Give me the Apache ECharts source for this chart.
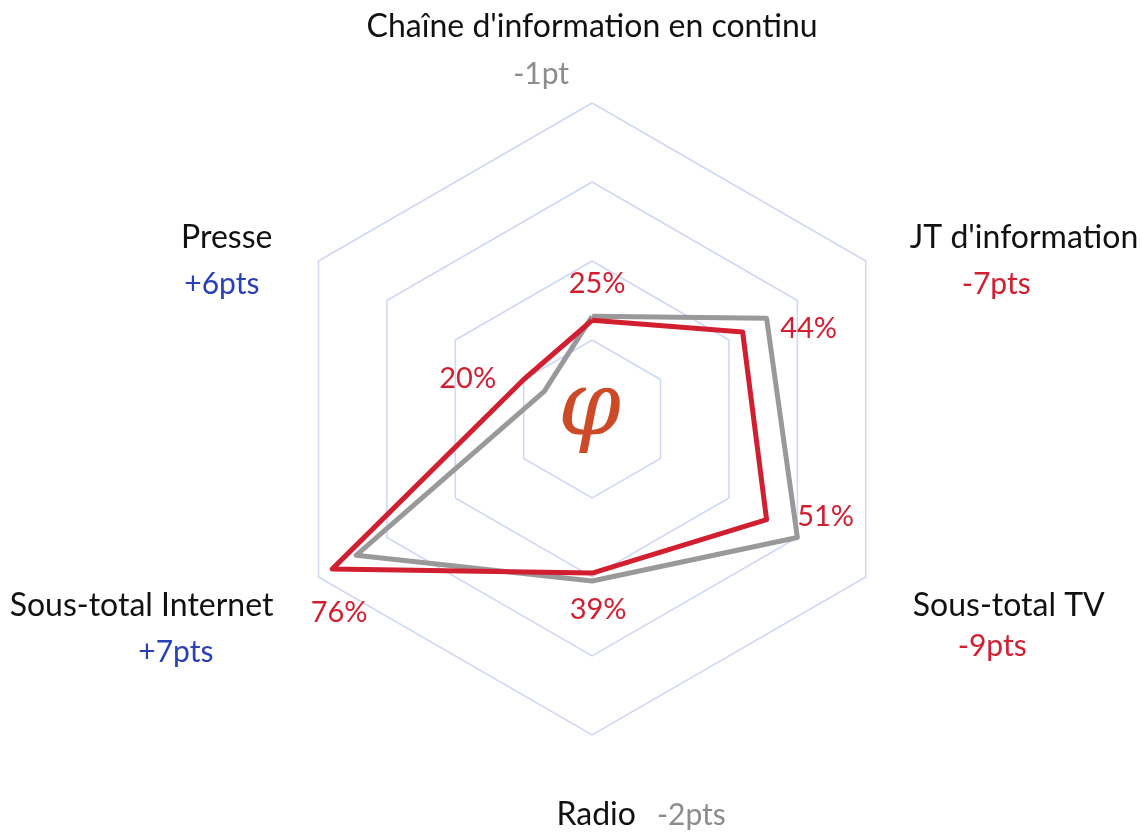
<!DOCTYPE html>
<html>
<head>
<meta charset="utf-8">
<script src="https://cdn.jsdelivr.net/npm/echarts@6/dist/echarts.min.js"></script>
<style>
  html, body { margin: 0; padding: 0; background: #fff; }
  #chart1 { width: 1142px; height: 833px; }
</style>
</head>
<body>
<div id="chart1"></div>
<script>
// axes, counter-clockwise from the top
var categories = ['Chaîne d\'information en continu', 'Presse', 'Sous-total Internet', 'Radio', 'Sous-total TV', 'JT d\'information'];
var current = [25, 20, 76, 39, 51, 44];
var previous = [26, 14, 69, 41, 60, 51];
var deltas = ['-1pt', '+6pts', '+7pts', '-2pts', '-9pts', '-7pts'];

const colors = ['#999999', '#d21f30'];
var toneColors = { g: '#8c8c8c', r: '#d21f30', b: '#2a40b8' };
var fontFamily = 'Lato, "Noto Sans", sans-serif';

// value label offsets from each red vertex
var labelOffsets = [[5, -37], [-56, -1], [7, 44], [6, 37], [59, -3], [66, -3]];

// axis name layout: paddings for name / delta line, line heights, top spacer
var nameLayout = [
    { align: 'center', namePad: [0, 0, 0, 0], deltaPad: [0, 102, 0, 0], nameLH: 36, deltaLH: 58, spacer: 0 },
    { align: 'right', namePad: [0, 46, 0, 0], deltaPad: [0, 59, 0, 0], nameLH: 46, deltaLH: 46, spacer: 0 },
    { align: 'right', namePad: [0, 45, 0, 0], deltaPad: [0, 105, 0, 0], nameLH: 46, deltaLH: 46, spacer: 104 },
    { align: 'left', namePad: [0, 0, 0, 98], deltaPad: [0, 0, 0, 21], nameLH: 160, deltaLH: 160, spacer: 0 },
    { align: 'left', namePad: [0, 0, 0, 47], deltaPad: [0, 0, 0, 92], nameLH: 40, deltaLH: 40, spacer: 98 },
    { align: 'left', namePad: [0, 0, 0, 44], deltaPad: [0, 0, 0, 96], nameLH: 46, deltaLH: 46, spacer: 0 }
];

function deltaTone(txt) {
    var v = parseInt(txt, 10);
    if (Math.abs(v) <= 2) return 'g';
    return v > 0 ? 'b' : 'r';
}

var indicators = [];
var rich = {};
for (var i = 0; i < categories.length; i++) {
    indicators.push({ name: categories[i], min: 0, max: 80 });
    var lay = nameLayout[i];
    rich['n' + i] = { fontFamily: fontFamily, fontSize: 32, color: '#111111', lineHeight: lay.nameLH, align: lay.align, padding: lay.namePad };
    rich['d' + i] = { fontFamily: fontFamily, fontSize: 30, color: toneColors[deltaTone(deltas[i])], lineHeight: lay.deltaLH, align: lay.align, padding: lay.deltaPad };
    rich['s' + i] = { fontSize: 10, lineHeight: lay.spacer || 1, align: lay.align };
}

var series = [
    {
        name: 'previous',
        type: 'radar',
        symbol: 'none',
        lineStyle: { color: colors[0], width: 5 },
        data: [{ value: previous }]
    },
    {
        name: 'current',
        type: 'radar',
        symbol: 'none',
        lineStyle: { color: colors[1], width: 5 },
        data: [{ value: current }]
    }
];

// one invisible series per value label, so each can sit in its own spot
for (var k = 0; k < current.length; k++) {
    (function (idx) {
        series.push({
            type: 'radar',
            silent: true,
            symbol: 'circle',
            symbolSize: 1,
            itemStyle: { color: 'rgba(0,0,0,0)' },
            lineStyle: { width: 0, opacity: 0 },
            label: {
                show: true,
                position: 'inside',
                offset: labelOffsets[idx],
                color: colors[1],
                fontFamily: fontFamily,
                fontSize: 29,
                formatter: function (p) {
                    return p.value === current[idx] ? p.value + '%' : '';
                }
            },
            data: [{ value: current }]
        });
    })(k);
}

var myChart1 = echarts.init(document.getElementById('chart1'));
var option = {
    animation: false,
    radar: {
        center: ['51.85%', '50.3%'],
        radius: 316,
        startAngle: 90,
        splitNumber: 4,
        shape: 'polygon',
        indicator: indicators,
        nameGap: 0,
        axisLine: { show: false },
        axisTick: { show: false },
        axisLabel: { show: false },
        splitArea: { show: false },
        splitLine: { lineStyle: { color: '#d0d6f5', width: 1.5 } },
        axisName: {
            fontFamily: fontFamily,
            formatter: function (name) {
                var i = categories.indexOf(name);
                if (i === 3) {
                    return '{n3|' + name + '}{d3|' + deltas[i] + '}';
                }
                var txt = '{n' + i + '|' + name + '}\n{d' + i + '|' + deltas[i] + '}';
                if (nameLayout[i].spacer) {
                    txt = '{s' + i + '| }\n' + txt;
                }
                return txt;
            },
            rich: rich
        }
    },
    graphic: [
        {
            type: 'text',
            left: 558,
            top: 366,
            style: {
                text: 'φ',
                font: 'italic 90px "DejaVu Serif", serif',
                fill: '#cc4a28'
            }
        }
    ],
    series: series
};
myChart1.setOption(option);
</script>
</body>
</html>
